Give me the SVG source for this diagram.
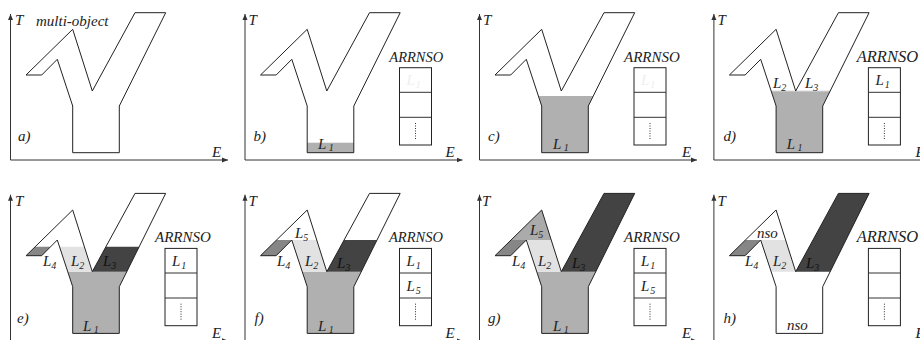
<svg xmlns="http://www.w3.org/2000/svg" xmlns:xlink="http://www.w3.org/1999/xlink" width="920" height="340" viewBox="0 0 920 340" font-family="Liberation Serif" font-style="italic" font-size="15">
<style>
.t{fill:#222}
.s{font-size:10px}
.ol{fill:none;stroke:#222;stroke-width:1;stroke-linejoin:miter}
.ax{stroke:#333;stroke-width:1;fill:none}
.bx{fill:#fff;stroke:#222;stroke-width:1}
.dot{stroke:#333;stroke-width:1;stroke-dasharray:1 1.5}
.f1{fill:#b0b0b0}
.f2{fill:#e2e2e2}
.f3{fill:#434343}
.f4{fill:#868686}
.f5{fill:#ababab}
.ghost{fill:#eeeeee}
</style>
<defs>
<marker id="arr" markerWidth="6" markerHeight="6" refX="6" refY="3" orient="auto" markerUnits="userSpaceOnUse"><path d="M0,0.5 L6,3 L0,5.5 z" fill="#333"/></marker>
<path id="shape" d="M26,75 L41.7,75 L57.3,59.3 L72.7,106 L72.7,152.7 L119.3,152.7 L119.3,106 L165.7,12.7 L135,12.7 L92.3,91 L72.7,29.3 Z"/>
<g id="axes"><path class="ax" d="M10.5,160 L10.5,14" marker-end="url(#arr)"/><path class="ax" d="M10.5,160 L228,160" marker-end="url(#arr)"/></g>
<g id="box"><rect class="bx" x="165" y="67.7" width="32" height="77.3"/><path class="ax" d="M165,92.3 H197 M165,117.3 H197"/><path class="dot" d="M181,123 V140"/></g>
<polygon id="l1lvl" points="67.8,91 92.3,91 126.8,91 119.3,106 119.3,152.7 72.7,152.7 72.7,106"/>
</defs>

<g id="panel-a">
<g id="conn-a"><use xlink:href="#axes"/></g>
<use xlink:href="#shape" class="ol"/>
<text class="t" x="15" y="25">T</text>
<text class="t" x="36" y="26">multi-object</text>
<text class="t" x="18" y="141">a)</text>
<text class="t" x="212" y="157">E</text>
</g>

<g id="panel-b" transform="translate(234.5,0)">
<g id="conn-b"><use xlink:href="#axes"/></g>
<rect class="f1" x="72.7" y="142.7" width="46.6" height="10"/>
<use xlink:href="#shape" class="ol"/>
<use xlink:href="#box"/>
<text class="t ghost" x="172" y="85">L<tspan class="s" dx="1" dy="3">1</tspan></text>
<text class="t" x="154.8" y="61.7" font-size="14.5">ARRNSO</text>
<text class="t" x="83.5" y="149">L<tspan class="s" dx="2.5" dy="2">1</tspan></text>
<text class="t" x="14" y="25">T</text>
<text class="t" x="19" y="141">b)</text>
<text class="t" x="211" y="157">E</text>
</g>

<g id="panel-c" transform="translate(469,0)">
<g id="conn-c"><use xlink:href="#axes"/></g>
<polygon class="f1" points="69.4,96 124.3,96 119.3,106 119.3,152.7 72.7,152.7 72.7,106"/>
<use xlink:href="#shape" class="ol"/>
<use xlink:href="#box"/>
<text class="t ghost" x="172" y="85">L<tspan class="s" dx="1" dy="3">1</tspan></text>
<text class="t" x="155" y="61.7">ARRNSO</text>
<text class="t" x="84" y="149">L<tspan class="s" dx="2.5" dy="2">1</tspan></text>
<text class="t" x="14" y="25">T</text>
<text class="t" x="19" y="141">c)</text>
<text class="t" x="213" y="157">E</text>
</g>

<g id="panel-d" transform="translate(703.4,0)">
<g id="conn-d"><use xlink:href="#axes"/></g>
<use xlink:href="#l1lvl" class="f1"/>
<path d="M67.8,91 H126.8" stroke="#d8d8d8" stroke-width="1"/>
<use xlink:href="#shape" class="ol"/>
<use xlink:href="#box"/>
<text class="t" x="172" y="85">L<tspan class="s" dx="1" dy="3">1</tspan></text>
<text class="t" x="153.3" y="61.7" font-size="16.5">ARRNSO</text>
<text class="t" x="69.6" y="88">L<tspan class="s" dy="3">2</tspan></text>
<text class="t" x="101.6" y="88">L<tspan class="s" dy="3">3</tspan></text>
<text class="t" x="83.3" y="149">L<tspan class="s" dx="2.5" dy="2">1</tspan></text>
<text class="t" x="14" y="25">T</text>
<text class="t" x="20" y="141">d)</text>
<text class="t" x="212" y="157">E</text>
</g>

<g id="panel-e" transform="translate(0,180.7)">
<g id="conn-e"><use xlink:href="#axes"/></g>
<use xlink:href="#l1lvl" class="f1"/>
<polygon class="f2" points="59.5,66 84.4,66 92.3,91 67.8,91"/>
<polygon class="f3" points="92.3,91 105.9,66 139.2,66 126.8,91"/>
<polygon class="f4" points="26,75 41.7,75 50.6,66 35.2,66"/>
<use xlink:href="#shape" class="ol"/>
<use xlink:href="#box"/>
<text class="t" x="172" y="85">L<tspan class="s" dx="1" dy="3">1</tspan></text>
<text class="t" x="155" y="61.7">ARRNSO</text>
<text class="t" x="43" y="85.3">L<tspan class="s" dy="3">4</tspan></text>
<text class="t" x="71" y="85.3">L<tspan class="s" dy="3">2</tspan></text>
<text class="t" x="103" y="85.3" style="fill:#111">L<tspan class="s" dy="3">3</tspan></text>
<text class="t" x="83" y="150">L<tspan class="s" dx="2.5" dy="2">1</tspan></text>
<text class="t" x="15" y="25">T</text>
<text class="t" x="17" y="142">e)</text>
<text class="t" x="212" y="157">E</text>
</g>

<g id="panel-f" transform="translate(234.5,180.7)">
<g id="conn-f"><use xlink:href="#axes"/></g>
<use xlink:href="#l1lvl" class="f1"/>
<polygon class="f2" points="57.3,59.3 82.2,59.3 92.3,91 67.8,91"/>
<polygon class="f3" points="92.3,91 109.6,59.3 142.5,59.3 126.8,91"/>
<polygon class="f4" points="26,75 41.7,75 57.3,59.3 42.1,59.3"/>
<use xlink:href="#shape" class="ol"/>
<use xlink:href="#box"/>
<text class="t" x="172" y="85">L<tspan class="s" dx="1" dy="3">1</tspan></text>
<text class="t" x="172" y="110">L<tspan class="s" dx="1" dy="3">5</tspan></text>
<text class="t" x="154.5" y="61.7" font-size="14.5">ARRNSO</text>
<text class="t" x="60.5" y="57.3">L<tspan class="s" dy="3">5</tspan></text>
<text class="t" x="42.5" y="85.3">L<tspan class="s" dy="3">4</tspan></text>
<text class="t" x="70.5" y="85.3">L<tspan class="s" dy="3">2</tspan></text>
<text class="t" x="102.5" y="87" style="fill:#111">L<tspan class="s" dy="3">3</tspan></text>
<text class="t" x="83.5" y="150">L<tspan class="s" dx="2.5" dy="2">1</tspan></text>
<text class="t" x="14" y="25">T</text>
<text class="t" x="20" y="142">f)</text>
<text class="t" x="211" y="157">E</text>
</g>

<g id="panel-g" transform="translate(469,180.7)">
<g id="conn-g"><use xlink:href="#axes"/></g>
<use xlink:href="#l1lvl" class="f1"/>
<polygon class="f2" points="57.3,59.3 82.2,59.3 92.3,91 67.8,91"/>
<polygon class="f3" points="92.3,91 135,12.7 165.7,12.7 126.8,91"/>
<polygon class="f4" points="26,75 41.7,75 57.3,59.3 42.1,59.3"/>
<polygon class="f5" points="42.1,59.3 72.7,29.3 82.2,59.3"/>
<use xlink:href="#shape" class="ol"/>
<use xlink:href="#box"/>
<text class="t" x="172" y="85">L<tspan class="s" dx="1" dy="3">1</tspan></text>
<text class="t" x="172" y="110">L<tspan class="s" dx="1" dy="3">5</tspan></text>
<text class="t" x="155" y="61.7">ARRNSO</text>
<text class="t" x="61" y="54.3">L<tspan class="s" dy="3">5</tspan></text>
<text class="t" x="43" y="85.3">L<tspan class="s" dy="3">4</tspan></text>
<text class="t" x="69" y="85.3">L<tspan class="s" dy="3">2</tspan></text>
<text class="t" x="103" y="87" style="fill:#111">L<tspan class="s" dy="3">3</tspan></text>
<text class="t" x="84" y="150">L<tspan class="s" dx="2.5" dy="2">1</tspan></text>
<text class="t" x="13" y="25">T</text>
<text class="t" x="19" y="142">g)</text>
<text class="t" x="213" y="157">E</text>
</g>

<g id="panel-h" transform="translate(703.4,180.7)">
<g id="conn-h"><use xlink:href="#axes"/></g>
<polygon class="f2" points="57.3,59.3 82.2,59.3 92.3,91 67.8,91"/>
<polygon class="f3" points="92.3,91 135,12.7 165.7,12.7 126.8,91"/>
<polygon class="f4" points="26,75 41.7,75 57.3,59.3 42.1,59.3"/>
<use xlink:href="#shape" class="ol"/>
<use xlink:href="#box"/>
<text class="t" x="153.3" y="61.7" font-size="16.5">ARRNSO</text>
<text class="t" x="53.6" y="57.3">nso</text>
<text class="t" x="41.6" y="85.3">L<tspan class="s" dy="3">4</tspan></text>
<text class="t" x="69.6" y="85.3">L<tspan class="s" dy="3">2</tspan></text>
<text class="t" x="102.6" y="87" style="fill:#111">L<tspan class="s" dy="3">3</tspan></text>
<text class="t" x="83.6" y="149.3">nso</text>
<text class="t" x="14" y="25">T</text>
<text class="t" x="20" y="142">h)</text>
<text class="t" x="212" y="157">E</text>
</g>
</svg>
